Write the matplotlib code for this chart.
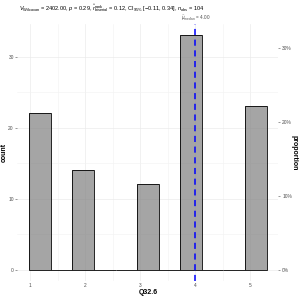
import numpy as np
import matplotlib
matplotlib.use('Agg')
import matplotlib.pyplot as plt
from matplotlib.ticker import FuncFormatter

plt.rcParams['font.family'] = ['Liberation Sans', 'DejaVu Sans']
plt.rcParams['mathtext.fontset'] = 'custom'
plt.rcParams['mathtext.rm'] = 'Liberation Sans'
plt.rcParams['mathtext.it'] = 'Liberation Sans:italic'

# histogram of Q32.6 (bin counts)
bin_start = 0.98
bin_width = 0.392
counts = [22, 0, 14, 0, 0, 12, 0, 33, 0, 0, 23]
n_obs = 104
median_value = 4.00
x_ticks = [1, 2, 3, 4, 5]
y_ticks = [0, 10, 20, 30]
prop_ticks = [0.0, 0.1, 0.2, 0.3]

subtitle = (r"$V_{\mathrm{Wilcoxon}}$ = 2402.00, $p$ = 0.29, "
            r"$\widehat{r}_{\mathrm{biserial}}^{\mathrm{rank}}$ = 0.12, "
            r"CI$_{95\%}$ [$-$0.11, 0.34], $n_{\mathrm{obs}}$ = 104")

edges = bin_start + bin_width * np.arange(len(counts) + 1)

fig = plt.figure(figsize=(2.99, 2.99), dpi=100)
ax = fig.add_axes([0.0585, 0.059, 0.8725, 0.862])

ax.bar(edges[:-1], counts, width=bin_width, align='edge',
       color='#7f7f7f', alpha=0.7, edgecolor='none', zorder=2)
ax.bar(edges[:-1], counts, width=bin_width, align='edge',
       fill=False, edgecolor='black', linewidth=0.6, zorder=3)

ax.axvline(median_value, color='blue', linestyle=(0, (4, 3)), linewidth=1.1, zorder=4)

span = edges[-1] - edges[0]
ax.set_xlim(edges[0] - 0.05 * span, edges[-1] + 0.05 * span)
ax.set_ylim(-0.05 * max(counts), 1.05 * max(counts))

ax.set_xticks(x_ticks)
ax.set_xticks([1.5, 2.5, 3.5, 4.5, 5.5], minor=True)
ax.set_yticks(y_ticks)
ax.set_yticks([5, 15, 25], minor=True)
ax.grid(True, which='major', color='#ebebeb', linewidth=0.5, zorder=0)
ax.grid(True, which='minor', color='#f2f2f2', linewidth=0.4, zorder=0)
ax.set_axisbelow(True)
for s in ax.spines.values():
    s.set_visible(False)

ax.tick_params(axis='both', which='major', labelsize=3.5, colors='#4d4d4d',
               length=1.5, width=0.4, pad=1.2)
ax.tick_params(axis='x', which='major', length=0, pad=1.2)
ax.tick_params(which='minor', length=0)

ax.set_xlabel('Q32.6', fontsize=5, fontweight='bold', labelpad=0.8)
ax.set_ylabel('count', fontsize=5, fontweight='bold', labelpad=0.5)

sec = ax.secondary_yaxis('right', functions=(lambda c: c / n_obs, lambda p: p * n_obs))
sec.set_yticks(prop_ticks)
sec.yaxis.set_major_formatter(FuncFormatter(lambda v, pos: f"{v * 100:.0f}%"))
sec.tick_params(labelsize=3.5, colors='#4d4d4d', length=1.5, width=0.4, pad=1.2)
sec.spines['right'].set_visible(False)
sec.set_ylabel('proportion', fontsize=5, fontweight='bold', rotation=270, labelpad=4)

secx = ax.secondary_xaxis('top')
secx.set_xticks([median_value])
secx.set_xticklabels([r"$\widehat{\mu}_{\mathrm{median}}$ = 4.00"])
secx.tick_params(labelsize=3.3, colors='#4d4d4d', length=0, pad=0.8)
secx.spines['top'].set_visible(False)

fig.text(0.062, 0.973, subtitle, fontsize=4.1, ha='left', va='center')

fig.savefig('out.png', dpi=100)
